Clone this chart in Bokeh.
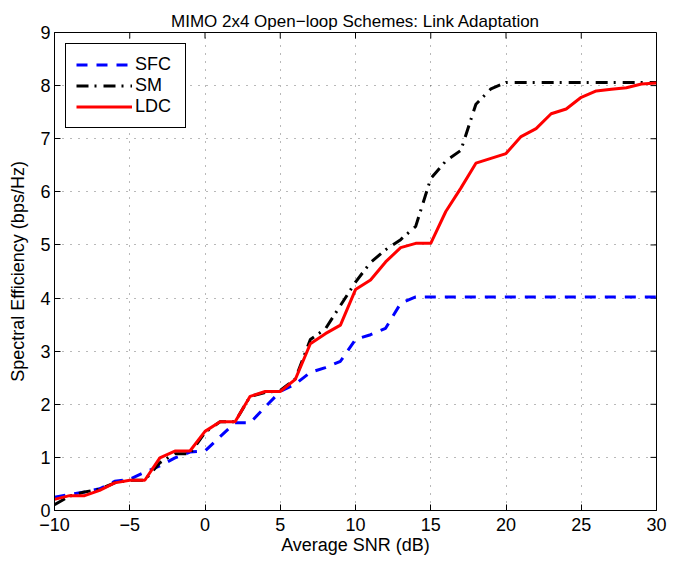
from bokeh.plotting import figure
from bokeh.models import Range1d, FixedTicker, Legend, LegendItem
from bokeh.embed import file_html
from bokeh.resources import INLINE

snr = list(range(-10, 31))
sfc = [0.25, 0.30, 0.35, 0.41, 0.55, 0.59, 0.72, 0.84, 0.99, 1.10,
       1.12, 1.39, 1.65, 1.65, 1.95, 2.24, 2.38, 2.60, 2.69, 2.81,
       3.22, 3.31, 3.43, 3.90, 4.02, 4.02, 4.02, 4.02, 4.02, 4.02,
       4.02, 4.02, 4.02, 4.02, 4.02, 4.02, 4.02, 4.02, 4.02, 4.02, 4.02]
sm = [0.11, 0.27, 0.35, 0.40, 0.52, 0.57, 0.57, 0.90, 1.07, 1.07,
      1.47, 1.67, 1.67, 2.15, 2.22, 2.26, 2.48, 3.22, 3.42, 3.86,
      4.30, 4.67, 4.91, 5.10, 5.35, 6.25, 6.58, 6.78, 7.65, 7.94,
      8.06, 8.06, 8.06, 8.06, 8.06, 8.06, 8.06, 8.06, 8.06, 8.06, 8.06]
ldc = [0.21, 0.28, 0.28, 0.38, 0.52, 0.57, 0.57, 0.99, 1.12, 1.12,
       1.49, 1.67, 1.67, 2.15, 2.24, 2.24, 2.47, 3.14, 3.33, 3.49,
       4.16, 4.34, 4.68, 4.95, 5.03, 5.03, 5.63, 6.07, 6.54, 6.63,
       6.72, 7.04, 7.19, 7.47, 7.56, 7.78, 7.90, 7.93, 7.96, 8.03, 8.05]

x_ticks = [-10, -5, 0, 5, 10, 15, 20, 25, 30]
x_tick_labels = ["\u221210", "\u22125", "0", "5", "10", "15", "20", "25", "30"]
y_ticks = [0, 1, 2, 3, 4, 5, 6, 7, 8, 9]

FONT = "Liberation Sans"
FS = "18px"
X0, X1, Y0, Y1 = -10, 30, 0, 9

p = figure(width=667, height=558, output_backend="svg", toolbar_location=None,
           x_range=Range1d(X0, X1), y_range=Range1d(Y0, Y1),
           frame_width=602, frame_height=478,
           min_border_left=54, min_border_right=11, min_border_top=32, min_border_bottom=48,
           title="MIMO 2x4 Open\u2212loop Schemes: Link Adaptation")

p.title.align = "center"
p.title.text_font = FONT
p.title.text_font_size = "17px"
p.title.text_font_style = "normal"
p.title.text_color = "black"
p.title.standoff = 4

p.outline_line_color = "black"
p.outline_line_width = 1
p.outline_line_alpha = 1

for ax in [p.xaxis[0], p.yaxis[0]]:
    ax.major_label_text_font = FONT
    ax.major_label_text_font_size = FS
    ax.major_label_text_color = "black"
    ax.axis_label_text_font = FONT
    ax.axis_label_text_font_size = FS
    ax.axis_label_text_font_style = "normal"
    ax.axis_label_text_color = "black"
    ax.major_tick_in = 6
    ax.major_tick_out = 0
    ax.minor_tick_line_color = None
    ax.axis_line_color = "black"
    ax.major_tick_line_color = "black"

p.xaxis[0].ticker = FixedTicker(ticks=x_ticks)
p.xaxis[0].major_label_overrides = {t: l for t, l in zip(x_ticks, x_tick_labels)}
p.yaxis[0].ticker = FixedTicker(ticks=y_ticks)
p.xaxis[0].axis_label = "Average SNR (dB)"
p.yaxis[0].axis_label = "Spectral Efficiency (bps/Hz)"
p.xaxis[0].major_label_standoff = 7
p.xaxis[0].axis_label_standoff = 1
p.yaxis[0].major_label_standoff = 4
p.yaxis[0].axis_label_standoff = 9

p.xgrid.ticker = FixedTicker(ticks=x_ticks)
p.ygrid.ticker = FixedTicker(ticks=y_ticks)
for g in [p.xgrid[0], p.ygrid[0]]:
    g.grid_line_color = "black"
    g.grid_line_alpha = 0.55
    g.grid_line_dash = "1 7"
    g.grid_line_width = 1

# inward ticks on the top and right edges of the box
tick_dx = (X1 - X0) * 6 / 602
tick_dy = (Y1 - Y0) * 6 / 478
p.segment(x0=x_ticks, y0=[Y1] * len(x_ticks), x1=x_ticks, y1=[Y1 - tick_dy] * len(x_ticks),
          line_color="black", line_width=1)
p.segment(x0=[X1] * len(y_ticks), y0=y_ticks, x1=[X1 - tick_dx] * len(y_ticks), y1=y_ticks,
          line_color="black", line_width=1)

r_sfc = p.line(snr, sfc, line_color="#0000ff", line_width=3, line_dash="11 9")
r_sm = p.line(snr, sm, line_color="black", line_width=3, line_dash="12 6 2 7")
r_ldc = p.line(snr, ldc, line_color="#ff0000", line_width=3)

legend = Legend(items=[LegendItem(label="SFC", renderers=[r_sfc]),
                       LegendItem(label="SM", renderers=[r_sm]),
                       LegendItem(label="LDC", renderers=[r_ldc])],
                location="top_left")
legend.margin = 11
legend.padding = 10
legend.spacing = 0
legend.glyph_width = 56
legend.glyph_height = 19
legend.label_height = 19
legend.label_width = 40
legend.label_standoff = 3
legend.label_text_font = FONT
legend.label_text_font_size = FS
legend.label_text_color = "black"
legend.border_line_color = "black"
legend.border_line_width = 1
legend.border_line_alpha = 1
legend.background_fill_alpha = 1
p.add_layout(legend, "center")

open("out.html", "w").write(file_html(p, INLINE))
